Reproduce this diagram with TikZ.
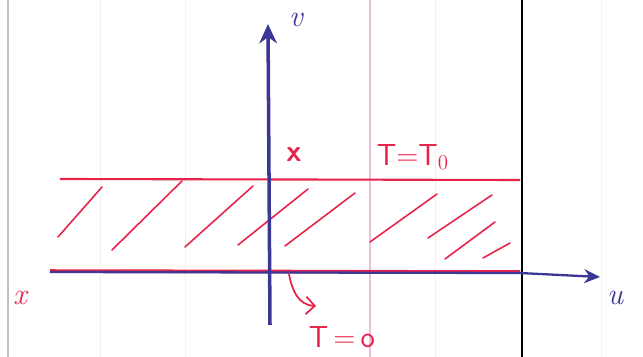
\documentclass[tikz,border=0pt]{standalone}
\usetikzlibrary{arrows.meta}
\definecolor{pen}{RGB}{232,35,75}
\definecolor{ink}{RGB}{60,55,150}
\definecolor{pagepink}{RGB}{240,190,215}
\definecolor{pagegrey}{RGB}{240,240,240}
\tikzset{
  hatch/.style={pen, line width=0.9pt, line cap=round},
  redlab/.style={pen, font=\LARGE\sffamily},
  bluelab/.style={ink, font=\LARGE\itshape},
  pageline/.style={pagegrey, line width=0.5pt},
}
\begin{document}
\begin{tikzpicture}[x=0.02cm, y=-0.02cm]
\useasboundingbox (0,0) rectangle (643,357);
% page lines
\draw[gray!50, line width=1pt] (8,0) -- (8,357);
\draw[pageline] (100,0) -- (100,357);
\draw[pageline] (185,0) -- (185,357);
\draw[pageline] (435,0) -- (435,357);
\draw[pageline] (601,0) -- (601,357);
\draw[pagepink, line width=0.6pt] (370,0) -- (370,357);
\draw[black, line width=1.6pt] (522,0) -- (522,357);
% strip boundaries
\draw[pen, line width=1.2pt] (60,179) -- (520,180);
\draw[pen, line width=2pt] (50,271) -- (520,272);
\coordinate (uS) at (50,272);
\coordinate (uE) at (600,277);
\draw[ink, line width=1.3pt, -{Stealth[length=9pt,width=8pt]}] (uS) -- (520,273) -- (uE);
% hatching
\draw[hatch] (58,237) -- (102,187);
\draw[hatch] (112,250) -- (182,181);
\draw[hatch] (185,247) -- (253,186);
\draw[hatch] (238,245) -- (308,189);
\draw[hatch] (285,246) -- (355,193);
\draw[hatch] (370,242) -- (437,194);
\draw[hatch] (428,238) -- (492,195);
\draw[hatch] (445,259) -- (495,222);
\draw[hatch] (483,258) -- (510,243);
% v axis
\coordinate (vS) at (270,325);
\coordinate (vE) at (268,24);
\draw[ink, line width=2pt, -{Stealth[length=11pt,width=10pt]}] (vS) -- (vE);
\node[bluelab] (v) at (296,20) {v};
\node[bluelab] (u) at (615,298) {u};
\node[redlab, font=\LARGE\itshape] (x) at (20,298) {x};
\node[redlab, font=\LARGE\bfseries\sffamily] (xi) at (294,155) {x};
\node[redlab] (T0) at (413,157) {T=T$_0$};
\node[redlab] (T) at (342,337) {T\,=\,o};
\coordinate (a0) at (289,274);
\coordinate (a1) at (316,306);
\draw[pen, line width=1pt, -{Straight Barb[length=5pt]}] (a0) .. controls (292,290) and (298,305) .. (a1);
\end{tikzpicture}
\end{document}
